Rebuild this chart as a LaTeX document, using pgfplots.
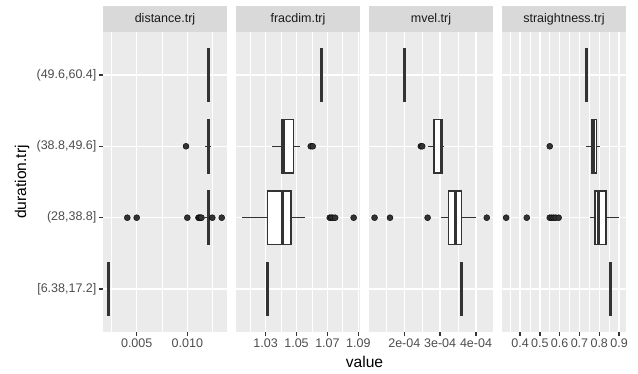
\documentclass[border=0pt]{standalone}
\usepackage{fontspec}
\setmainfont{Liberation Sans}
\usepackage{pgfplots}
\pgfplotsset{compat=1.18}
\usepgfplotslibrary{statistics}
\definecolor{panelbg}{HTML}{EBEBEB}
\definecolor{stripbg}{HTML}{D9D9D9}
\definecolor{striptxt}{HTML}{1A1A1A}
\definecolor{ticklab}{HTML}{4D4D4D}
\definecolor{boxcol}{HTML}{333333}
\pgfplotsset{
  facet/.style={
    scale only axis, width=124pt, height=300pt,
    anchor=south west,
    ymin=0.4, ymax=4.6, ytick={1,2,3,4},
    axis background/.style={fill=panelbg},
    axis line style={draw=none},
    xmajorgrids=true, xminorgrids=true, ymajorgrids=true,
    major grid style={white, line width=1.5pt},
    minor grid style={white, line width=0.75pt},
    tick align=outside, major tick length=3.9pt, minor tick length=0pt,
    tick style={boxcol, line width=1.5pt},
    xtick pos=left, ytick pos=left,
    scaled x ticks=false,
    tick label style={font=\fontsize{12.5}{14}\selectfont, text=ticklab},
    xticklabel style={inner sep=0pt, yshift=-3pt},
    yticklabel style={inner sep=0pt, xshift=-2.5pt},
    every axis title/.style={at={(0.5,1)}, anchor=south, fill=stripbg,
      minimum width=124pt, minimum height=26pt, inner sep=0pt,
      text=striptxt, font=\fontsize{12.5}{14}\selectfont},
    boxplot/box extend=0.75,
    boxplot/whisker extend=0,
    boxplot/every box/.style={draw=boxcol, fill=white, line width=1.5pt},
    boxplot/every median/.style={draw=boxcol, line width=3pt},
    boxplot/every whisker/.style={draw=boxcol, line width=1.5pt},
  },
  inner/.style={yticklabels={}, ytick style={draw=none}},
  outl/.style={only marks, mark=*, mark size=3pt, mark options={fill=boxcol, draw=none}},
}
\begin{document}
\begin{tikzpicture}
\useasboundingbox (0,0) rectangle (638pt,374pt);
% distance.trj
\begin{axis}[facet, at={(103pt,42pt)}, title={distance.trj},
  xmin=0.00167, xmax=0.01392,
  xtick={0.005,0.010}, xticklabels={0.005,0.010},
  minor xtick={0.0025,0.0075,0.0125},
  yticklabels={{[6.38,17.2]},{(28,38.8]},{(38.8,49.6]},{(49.6,60.4]}}]
\addplot[boxplot prepared={draw position=1, lower whisker=0.00226, lower quartile=0.00226, median=0.00226, upper quartile=0.00226, upper whisker=0.00226}] coordinates {};
\addplot[boxplot prepared={draw position=2, lower whisker=0.01175, lower quartile=0.01199, median=0.01205, upper quartile=0.01212, upper whisker=0.01235}] coordinates {};
\addplot[boxplot prepared={draw position=3, lower whisker=0.01175, lower quartile=0.0120, median=0.01207, upper quartile=0.01213, upper whisker=0.01235}] coordinates {};
\addplot[boxplot prepared={draw position=4, lower whisker=0.01207, lower quartile=0.01207, median=0.01207, upper quartile=0.01207, upper whisker=0.01207}] coordinates {};
\addplot[outl] coordinates {(0.00407,2) (0.0050,2) (0.0100,2) (0.0111,2) (0.0112,2) (0.0113,2) (0.0114,2) (0.01247,2) (0.0134,2) (0.00987,3)};
\end{axis}
% fracdim.trj
\begin{axis}[facet, inner, at={(236pt,42pt)}, title={fracdim.trj},
  xmin=1.0108, xmax=1.0911,
  xtick={1.03,1.05,1.07,1.09}, xticklabels={1.03,1.05,1.07,1.09},
  minor xtick={1.02,1.04,1.06,1.08}]
\addplot[boxplot prepared={draw position=1, lower whisker=1.0313, lower quartile=1.0313, median=1.0313, upper quartile=1.0313, upper whisker=1.0313}] coordinates {};
\addplot[boxplot prepared={draw position=2, lower whisker=1.0147, lower quartile=1.0313, median=1.0407, upper quartile=1.0465, upper whisker=1.0554}] coordinates {};
\addplot[boxplot prepared={draw position=3, lower whisker=1.0343, lower quartile=1.0405, median=1.0414, upper quartile=1.0481, upper whisker=1.0521}] coordinates {};
\addplot[boxplot prepared={draw position=4, lower whisker=1.0661, lower quartile=1.0661, median=1.0661, upper quartile=1.0661, upper whisker=1.0661}] coordinates {};
\addplot[outl] coordinates {(1.0715,2) (1.0725,2) (1.0735,2) (1.0750,2) (1.0870,2) (1.0592,3) (1.0605,3)};
\end{axis}
% mvel.trj
\begin{axis}[facet, inner, at={(369pt,42pt)}, title={mvel.trj},
  xmin=0.0001015, xmax=0.0004474,
  xtick={0.0002,0.0003,0.0004}, xticklabels={2e-04,3e-04,4e-04},
  minor xtick={0.00015,0.00025,0.00035}]
\addplot[boxplot prepared={draw position=1, lower whisker=0.000359, lower quartile=0.000359, median=0.000359, upper quartile=0.000359, upper whisker=0.000359}] coordinates {};
\addplot[boxplot prepared={draw position=2, lower whisker=0.000301, lower quartile=0.000323, median=0.000343, upper quartile=0.000360, upper whisker=0.000399}] coordinates {};
\addplot[boxplot prepared={draw position=3, lower whisker=0.000265, lower quartile=0.000283, median=0.000303, upper quartile=0.000305, upper whisker=0.000311}] coordinates {};
\addplot[boxplot prepared={draw position=4, lower whisker=0.000201, lower quartile=0.000201, median=0.000201, upper quartile=0.000201, upper whisker=0.000201}] coordinates {};
\addplot[outl] coordinates {(0.000117,2) (0.000160,2) (0.000265,2) (0.000430,2) (0.000246,3) (0.000250,3)};
\end{axis}
% straightness.trj
\begin{axis}[facet, inner, at={(502pt,42pt)}, title={straightness.trj},
  xmin=0.309, xmax=0.935,
  xtick={0.4,0.5,0.6,0.7,0.8,0.9}, xticklabels={0.4,0.5,0.6,0.7,0.8,0.9},
  minor xtick={0.35,0.45,0.55,0.65,0.75,0.85}]
\addplot[boxplot prepared={draw position=1, lower whisker=0.855, lower quartile=0.855, median=0.855, upper quartile=0.855, upper whisker=0.855}] coordinates {};
\addplot[boxplot prepared={draw position=2, lower whisker=0.751, lower quartile=0.778, median=0.798, upper quartile=0.834, upper whisker=0.900}] coordinates {};
\addplot[boxplot prepared={draw position=3, lower whisker=0.734, lower quartile=0.762, median=0.772, upper quartile=0.785, upper whisker=0.803}] coordinates {};
\addplot[boxplot prepared={draw position=4, lower whisker=0.734, lower quartile=0.734, median=0.734, upper quartile=0.734, upper whisker=0.734}] coordinates {};
\addplot[outl] coordinates {(0.330,2) (0.434,2) (0.550,2) (0.560,2) (0.570,2) (0.580,2) (0.595,2) (0.550,3)};
\end{axis}
\node[font=\fontsize{15.6}{18}\selectfont] at (364.5pt,12pt) {value};
\node[font=\fontsize{15.6}{18}\selectfont, rotate=90] at (22pt,192pt) {duration.trj};
\end{tikzpicture}
\end{document}
